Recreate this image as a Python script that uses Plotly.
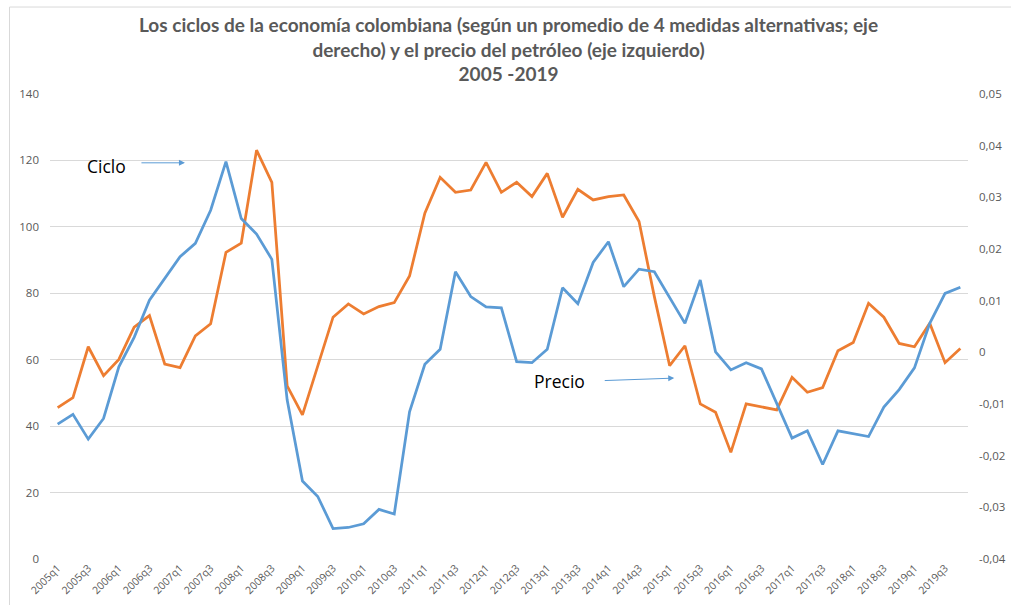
import plotly.graph_objects as go

quarters = [f"{y}q{q}" for y in range(2005, 2020) for q in range(1, 5)]

# Precio del petróleo (eje izquierdo)
precio = [45.6, 48.6, 63.9, 55.2, 60.1, 69.8, 73.3, 58.7, 57.6, 67.2,
          70.8, 92.3, 95.1, 123.1, 113.4, 52.1, 43.4, 58.0, 72.8, 76.8,
          73.8, 76.0, 77.2, 85.2, 104.1, 114.9, 110.4, 111.1, 119.4, 110.4,
          113.4, 109.1, 116.1, 102.9, 111.3, 108.1, 109.1, 109.6, 101.6, 79.0,
          58.2, 64.2, 46.7, 44.2, 32.1, 46.7, 45.9, 44.9, 54.7, 50.2,
          51.6, 62.7, 65.2, 77.0, 72.8, 64.9, 63.9, 71.0, 59.1, 63.4]

# Ciclo económico (eje derecho)
ciclo = [-0.0139, -0.0120, -0.0168, -0.0128, -0.0028, 0.0029, 0.0101, 0.0143, 0.0185, 0.0211,
         0.0275, 0.0369, 0.0259, 0.0229, 0.0180, -0.0092, -0.0249, -0.0279, -0.0341, -0.0339,
         -0.0332, -0.0304, -0.0313, -0.0115, -0.0023, 0.0006, 0.0156, 0.0108, 0.0088, 0.0086,
         -0.0018, -0.0020, 0.0006, 0.0125, 0.0094, 0.0174, 0.0214, 0.0127, 0.0161, 0.0156,
         0.0105, 0.0056, 0.0140, 0.0001, -0.0034, -0.0020, -0.0032, -0.0099, -0.0166, -0.0152,
         -0.0217, -0.0152, -0.0157, -0.0163, -0.0106, -0.0072, -0.0030, 0.0056, 0.0114, 0.0126]

left_ticks = [0, 20, 40, 60, 80, 100, 120, 140]
right_ticks = [-0.04, -0.03, -0.02, -0.01, 0, 0.01, 0.02, 0.03, 0.04, 0.05]
right_labels = ["-0,04", "-0,03", "-0,02", "-0,01", "0", "0,01", "0,02", "0,03", "0,04", "0,05"]
x_labels = quarters[::2]

title_text = ("Los ciclos de la economía colombiana (según un promedio de 4 medidas alternativas; eje<br>"
              "derecho) y el precio del petróleo (eje izquierdo)<br>2005 -2019")

BLUE = "#5B9BD5"
ORANGE = "#ED7D31"
GRAY = "#595959"
GRID = "#D9D9D9"

fig = go.Figure()
fig.add_trace(go.Scatter(x=quarters, y=ciclo, mode="lines", name="Ciclo", yaxis="y2",
                         line=dict(color=BLUE, width=2.75)))
fig.add_trace(go.Scatter(x=quarters, y=precio, mode="lines", name="Precio", yaxis="y",
                         line=dict(color=ORANGE, width=2.75)))

tickfont = dict(family="Open Sans", size=11.5, color=GRAY)

fig.update_layout(
    width=1011, height=605,
    margin=dict(l=50, r=43, t=94, b=46, autoexpand=False),
    paper_bgcolor="white", plot_bgcolor="white",
    showlegend=False,
    title=dict(text=title_text, x=0.503, xanchor="center", y=0.947, yanchor="top",
               font=dict(family="Lato", size=19, color=GRAY, weight="bold")),
    xaxis=dict(type="category", range=[-0.5, len(quarters) - 0.5], automargin=False,
               tickmode="array", tickvals=x_labels, ticktext=x_labels,
               tickangle=-45, tickfont=dict(family="Open Sans", size=10.5, color=GRAY),
               showgrid=False, showline=False, zeroline=False, ticks=""),
    yaxis=dict(range=[0, 140], tickvals=left_ticks, showgrid=True, gridcolor=GRID, gridwidth=1,
               automargin=False, zeroline=False, showline=False, tickfont=tickfont,
               ticklabelstandoff=10),
    yaxis2=dict(range=[-0.04, 0.05], overlaying="y", side="right", tickvals=right_ticks,
                ticktext=right_labels, showgrid=False, zeroline=False, showline=False,
                automargin=False, tickfont=tickfont, ticklabelstandoff=10),
    shapes=[dict(type="rect", xref="paper", yref="paper", x0=-0.0441, x1=1.06, y0=-0.12, y1=1.187,
                 line=dict(color=GRID, width=1), fillcolor="rgba(0,0,0,0)", layer="above")],
    annotations=[
        dict(text="Ciclo", xref="paper", yref="paper", x=0.062, y=0.845, showarrow=False,
             xanchor="center", yanchor="middle",
             font=dict(family="Open Sans", size=17.5, color="black")),
        dict(text="", xref="paper", yref="paper", x=0.147, y=0.852, ax=-45, ay=0,
             showarrow=True, arrowhead=2, arrowsize=1.2, arrowwidth=1, arrowcolor=BLUE, standoff=0),
        dict(text="Precio", xref="paper", yref="paper", x=0.5545, y=0.383, showarrow=False,
             xanchor="center", yanchor="middle",
             font=dict(family="Open Sans", size=17.5, color="black")),
        dict(text="", xref="paper", yref="paper", x=0.680, y=0.389, ax=-71, ay=2.5,
             showarrow=True, arrowhead=2, arrowsize=1.2, arrowwidth=1, arrowcolor=BLUE, standoff=0),
    ],
)

fig.write_html("out.html", config={"displayModeBar": False},
               post_script="document.body.style.margin='0';")
